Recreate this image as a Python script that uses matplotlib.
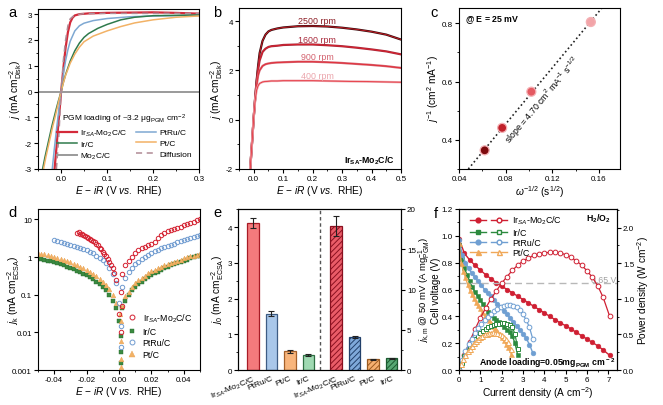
import numpy as np
import matplotlib
matplotlib.use("Agg")
import matplotlib.pyplot as plt
from matplotlib.lines import Line2D
from matplotlib.legend_handler import HandlerTuple
from matplotlib.ticker import MultipleLocator, FixedLocator, FixedFormatter, NullLocator

plt.rcParams["font.family"] = ["Liberation Sans", "DejaVu Sans"]
plt.rcParams["mathtext.fontset"] = "custom"
plt.rcParams["mathtext.rm"] = "Liberation Sans"
plt.rcParams["mathtext.it"] = "Liberation Sans:italic"
plt.rcParams["mathtext.bf"] = "Liberation Sans:bold"
plt.rcParams["axes.linewidth"] = 0.8
plt.rcParams["axes.unicode_minus"] = False
plt.rcParams["hatch.linewidth"] = 0.7

# ---------------- data ----------------
# (a) HOR polarization curves
a_irsa_x = [-0.014, -0.010, -0.006, -0.003, 0.0, 0.003, 0.006, 0.010, 0.015, 0.020, 0.025, 0.030, 0.040, 0.060, 0.10, 0.15, 0.20, 0.25, 0.30]
a_irsa_y = [-3.0, -2.2, -1.3, -0.7, -0.05, 0.5, 1.05, 1.7, 2.3, 2.68, 2.86, 2.95, 3.0, 3.03, 3.05, 3.06, 3.07, 3.05, 3.02]
a_diff_x = [-0.010, -0.005, 0.0, 0.005, 0.010, 0.015, 0.020, 0.030, 0.050, 0.10, 0.20, 0.30]
a_diff_y = [-3.0, -1.8, -0.1, 1.2, 2.0, 2.55, 2.82, 2.97, 3.02, 3.03, 3.03, 3.03]
a_ptru_x = [-0.019, -0.015, -0.010, -0.005, 0.0, 0.005, 0.010, 0.015, 0.020, 0.030, 0.040, 0.050, 0.070, 0.10, 0.15, 0.20, 0.30]
a_ptru_y = [-3.0, -2.3, -1.5, -0.75, -0.05, 0.65, 1.2, 1.62, 1.95, 2.35, 2.55, 2.65, 2.75, 2.83, 2.9, 2.93, 2.95]
a_irc_x = [-0.040, -0.035, -0.030, -0.025, -0.020, -0.015, -0.010, -0.005, 0.0, 0.005, 0.010, 0.020, 0.030, 0.040, 0.050, 0.060, 0.080, 0.10, 0.13, 0.16, 0.20, 0.30]
a_irc_y = [-3.0, -2.55, -2.15, -1.75, -1.35, -1.0, -0.65, -0.32, -0.02, 0.35, 0.66, 1.18, 1.58, 1.88, 2.1, 2.25, 2.45, 2.6, 2.78, 2.88, 2.94, 2.97]
a_ptc_x = [-0.038, -0.033, -0.028, -0.023, -0.018, -0.013, -0.008, -0.004, 0.0, 0.005, 0.010, 0.020, 0.030, 0.040, 0.050, 0.070, 0.10, 0.13, 0.16, 0.20, 0.25, 0.30]
a_ptc_y = [-3.0, -2.55, -2.15, -1.75, -1.35, -1.0, -0.62, -0.3, -0.02, 0.33, 0.63, 1.1, 1.45, 1.72, 1.93, 2.15, 2.35, 2.52, 2.66, 2.78, 2.88, 2.93]
a_mo2c_x = [-0.05, 0.30]
a_mo2c_y = [0.0, 0.0]

# (b) Ir_SA-Mo2C/C at different rotation rates
b_x = [-0.012, -0.005, 0.0, 0.005, 0.01, 0.015, 0.02, 0.03, 0.04, 0.05, 0.06, 0.08, 0.10, 0.15, 0.20, 0.25, 0.30, 0.35, 0.40, 0.45, 0.50]
b_2500 = [-2.0, -0.8, 0.1, 0.9, 1.6, 2.2, 2.7, 3.2, 3.45, 3.58, 3.64, 3.7, 3.74, 3.79, 3.8, 3.78, 3.73, 3.66, 3.57, 3.45, 3.25]
b_1600 = [-2.0, -0.8, 0.1, 0.9, 1.55, 2.05, 2.4, 2.75, 2.88, 2.95, 2.98, 3.0, 3.03, 3.05, 3.05, 3.02, 2.98, 2.92, 2.85, 2.77, 2.65]
b_900 = [-2.0, -0.8, 0.1, 0.85, 1.4, 1.8, 2.0, 2.18, 2.25, 2.28, 2.3, 2.32, 2.33, 2.35, 2.35, 2.33, 2.3, 2.26, 2.22, 2.17, 2.1]
b_400 = [-2.0, -0.8, 0.1, 0.8, 1.2, 1.38, 1.47, 1.53, 1.55, 1.56, 1.57, 1.57, 1.58, 1.58, 1.58, 1.57, 1.56, 1.55, 1.54, 1.53, 1.52]
b_labels = ["2500 rpm", "1600 rpm", "900 rpm", "400 rpm"]

# (c) Koutecky-Levich
c_x = [0.062, 0.077, 0.102, 0.153]
c_y = [0.364, 0.441, 0.565, 0.804]

# (d) kinetic current (log)
d_irsa_x = [-0.026, -0.025, -0.024, -0.023, -0.022, -0.021, -0.020, -0.019, -0.018, -0.017, -0.016, -0.015, -0.014,
            -0.013, -0.012, -0.011, -0.010, -0.009, -0.008, -0.007, -0.006, -0.005, -0.004, -0.003, -0.002,
            0.0, 0.001, 0.001, 0.002,
            0.002, 0.004, 0.006, 0.008, 0.010, 0.012, 0.014, 0.016, 0.018, 0.020, 0.022, 0.024, 0.026, 0.028,
            0.030, 0.032, 0.034, 0.036, 0.038, 0.040, 0.042, 0.044, 0.046, 0.048, 0.050]
d_irsa_y = [4.4, 4.7, 4.2, 4.0, 3.9, 3.6, 3.4, 3.3, 3.1, 2.9, 2.7, 2.5, 2.3,
            2.1, 1.8, 1.6, 1.4, 1.2, 1.05, 0.9, 0.75, 0.62, 0.5, 0.38, 0.25,
            0.03, 0.01, 0.12, 0.05,
            0.35, 0.6, 0.8, 1.0, 1.25, 1.5, 1.7, 1.9, 2.1, 2.2, 2.6, 3.2, 3.8, 4.4,
            4.9, 5.3, 5.6, 6.0, 6.5, 7.0, 7.5, 8.0, 8.8, 9.5, 10.5]
d_irc_x = [-0.050, -0.048, -0.046, -0.044, -0.042, -0.040, -0.038, -0.036, -0.034, -0.032, -0.030, -0.028, -0.026,
           -0.024, -0.022, -0.020, -0.018, -0.016, -0.014, -0.012, -0.010, -0.008, -0.006, -0.004, -0.002,
           0.0, 0.001, 0.001, 0.0015,
           0.002, 0.004, 0.006, 0.008, 0.010, 0.012, 0.014, 0.016, 0.018, 0.020, 0.022, 0.024, 0.026,
           0.028, 0.030, 0.032, 0.034, 0.036, 0.038, 0.040, 0.042, 0.044, 0.046, 0.048, 0.050]
d_irc_y = [0.95, 0.9, 0.86, 0.81, 0.77, 0.73, 0.68, 0.64, 0.6, 0.56, 0.52, 0.48, 0.44,
           0.4, 0.36, 0.33, 0.29, 0.26, 0.22, 0.19, 0.16, 0.13, 0.1, 0.07, 0.045,
           0.02, 0.008, 0.003, 0.0015,
           0.045, 0.07, 0.1, 0.13, 0.16, 0.19, 0.22, 0.26, 0.29, 0.33, 0.37, 0.41, 0.45,
           0.5, 0.55, 0.6, 0.65, 0.7, 0.75, 0.8, 0.86, 0.92, 0.98, 1.04, 1.1]
d_ptru_x = [-0.040, -0.038, -0.036, -0.034, -0.032, -0.030, -0.028, -0.026, -0.024, -0.022, -0.020, -0.018,
            -0.016, -0.014, -0.012, -0.010, -0.008, -0.006, -0.004, -0.002,
            0.0, 0.001, 0.0015,
            0.002, 0.004, 0.006, 0.008, 0.010, 0.012, 0.014, 0.016, 0.018, 0.020, 0.022, 0.024, 0.026,
            0.028, 0.030, 0.032, 0.034, 0.036, 0.038, 0.040, 0.042, 0.044, 0.046, 0.048, 0.050]
d_ptru_y = [2.8, 2.7, 2.55, 2.4, 2.3, 2.15, 2.0, 1.9, 1.78, 1.65, 1.5, 1.38,
            1.25, 1.1, 0.97, 0.82, 0.68, 0.52, 0.36, 0.2,
            0.06, 0.015, 0.004,
            0.16, 0.28, 0.4, 0.52, 0.64, 0.76, 0.88, 1.0, 1.15, 1.3, 1.42, 1.55, 1.7,
            1.85, 2.0, 2.15, 2.3, 2.48, 2.66, 2.85, 3.05, 3.25, 3.45, 3.65, 3.9]
d_ptc_x = [-0.050, -0.048, -0.046, -0.044, -0.042, -0.040, -0.038, -0.036, -0.034, -0.032, -0.030, -0.028, -0.026,
           -0.024, -0.022, -0.020, -0.018, -0.016, -0.014, -0.012, -0.010, -0.008, -0.006, -0.004, -0.002,
           0.0005, 0.001, 0.001, 0.0015, 0.001,
           0.002, 0.004, 0.006, 0.008, 0.010, 0.012, 0.014, 0.016, 0.018, 0.020, 0.022, 0.024, 0.026,
           0.028, 0.030, 0.032, 0.034, 0.036, 0.038, 0.040, 0.042, 0.044, 0.046, 0.048, 0.050]
d_ptc_y = [1.3, 1.24, 1.18, 1.12, 1.06, 1.0, 0.94, 0.88, 0.83, 0.77, 0.72, 0.66, 0.61,
           0.55, 0.5, 0.45, 0.4, 0.35, 0.31, 0.26, 0.22, 0.18, 0.14, 0.1, 0.06,
           0.03, 0.02, 0.006, 0.002, 0.0012,
           0.05, 0.09, 0.12, 0.16, 0.2, 0.24, 0.28, 0.32, 0.37, 0.42, 0.46, 0.51, 0.56,
           0.61, 0.66, 0.71, 0.76, 0.81, 0.86, 0.92, 0.98, 1.04, 1.1, 1.17, 1.25]

# (e) exchange / mass activity bars
e_names = ["Ir$_{SA}$-Mo$_2$C/C", "PtRu/C", "Pt/C", "Ir/C"]
e_j0 = [4.12, 1.57, 0.52, 0.42]
e_j0_err = [0.15, 0.07, 0.04, 0.04]
e_jkm = [17.9, 4.1, 1.35, 1.45]
e_jkm_err = [1.2, 0.15, 0.05, 0.05]

# (f) H2/O2 fuel cell
f_irsa_i = [0.0, 0.25, 0.5, 0.75, 1.0, 1.25, 1.5, 1.75, 2.0, 2.25, 2.5, 2.75, 3.0, 3.25, 3.5, 3.75, 4.0,
            4.25, 4.5, 4.75, 5.0, 5.25, 5.5, 5.75, 6.0, 6.25, 6.5, 6.75, 7.05]
f_irsa_v = [0.98, 0.87, 0.82, 0.78, 0.745, 0.71, 0.68, 0.65, 0.625, 0.6, 0.575, 0.55, 0.525, 0.5, 0.475, 0.45,
            0.425, 0.4, 0.375, 0.35, 0.33, 0.305, 0.28, 0.255, 0.23, 0.205, 0.18, 0.15, 0.11]
f_irsa_p = [0.0, 0.21, 0.4, 0.57, 0.73, 0.87, 1.0, 1.11, 1.22, 1.31, 1.4, 1.47, 1.53, 1.57, 1.61, 1.63, 1.645,
            1.65, 1.65, 1.64, 1.62, 1.58, 1.53, 1.47, 1.39, 1.3, 1.18, 1.02, 0.76]
f_irc_i = [0.0, 0.125, 0.25, 0.375, 0.5, 0.625, 0.75, 0.875, 1.0, 1.125, 1.25, 1.375, 1.5, 1.625, 1.75,
           1.875, 2.0, 2.125, 2.25, 2.375, 2.5, 2.625, 2.75]
f_irc_v = [0.93, 0.83, 0.76, 0.71, 0.66, 0.62, 0.58, 0.55, 0.52, 0.49, 0.46, 0.435, 0.41, 0.39, 0.37,
           0.355, 0.34, 0.32, 0.3, 0.28, 0.25, 0.2, 0.11]
f_irc_p = [0.0, 0.1, 0.19, 0.27, 0.33, 0.39, 0.43, 0.48, 0.52, 0.55, 0.575, 0.6, 0.615, 0.63, 0.64,
           0.65, 0.655, 0.655, 0.65, 0.635, 0.6, 0.5, 0.3]
f_ptru_i = [0.0, 0.15, 0.3, 0.45, 0.6, 0.75, 0.9, 1.05, 1.2, 1.35, 1.5, 1.65, 1.8, 1.95, 2.1, 2.25, 2.4,
            2.55, 2.7, 2.85, 3.0, 3.15, 3.3, 3.45]
f_ptru_v = [0.97, 0.86, 0.8, 0.76, 0.72, 0.69, 0.66, 0.63, 0.6, 0.575, 0.55, 0.52, 0.495, 0.47, 0.44, 0.415, 0.385,
            0.36, 0.33, 0.3, 0.27, 0.235, 0.19, 0.13]
f_ptru_p = [0.0, 0.14, 0.26, 0.36, 0.44, 0.52, 0.59, 0.65, 0.7, 0.75, 0.79, 0.83, 0.86, 0.88, 0.9, 0.91, 0.91,
            0.9, 0.88, 0.84, 0.78, 0.7, 0.6, 0.44]
f_ptc_i = [0.0, 0.1, 0.2, 0.3, 0.4, 0.5, 0.6, 0.7, 0.8, 0.9, 1.0, 1.1, 1.2, 1.3, 1.4, 1.5, 1.6, 1.7, 1.8,
           1.9, 2.0, 2.1, 2.2, 2.3, 2.45]
f_ptc_v = [0.95, 0.8, 0.74, 0.69, 0.64, 0.6, 0.57, 0.54, 0.51, 0.485, 0.46, 0.435, 0.41, 0.39, 0.37, 0.35, 0.33,
           0.31, 0.29, 0.27, 0.245, 0.22, 0.195, 0.17, 0.12]
f_ptc_p = [0.0, 0.08, 0.15, 0.21, 0.26, 0.3, 0.34, 0.38, 0.41, 0.44, 0.46, 0.48, 0.5, 0.51, 0.52, 0.525, 0.53,
           0.525, 0.52, 0.51, 0.49, 0.46, 0.43, 0.39, 0.29]

# ---------------- style ----------------
RED = "#d42a3a"
GREEN = "#2f7a4c"
BLUE = "#7ea8d2"
ORANGE = "#f2b266"
GRAY = "#9a9a9a"
TICK_FS = 5.8
LABEL_FS = 7.3

W, H = 663, 406


def px_axes(fig, left, top, right, bottom):
    return fig.add_axes([left / W, 1 - bottom / H, (right - left) / W, (bottom - top) / H])


def style(ax):
    ax.tick_params(which="both", direction="out", labelsize=TICK_FS, pad=1.5)
    ax.tick_params(which="major", length=2.8, width=0.8)
    ax.tick_params(which="minor", length=1.6, width=0.6)


xlabel_e = "$E$ − $iR$ (V $vs.$ RHE)"
ylabel_j = "$j$ (mA cm$^{-2}_{\\rm Disk}$)"

fig = plt.figure(figsize=(W / 100, H / 100), dpi=100)

# ---------------- a ----------------
ax = px_axes(fig, 38, 10, 199, 170)
h_irsa, = ax.plot(a_irsa_x, a_irsa_y, color=RED, lw=1.6, label="Ir$_{SA}$-Mo$_2$C/C")
h_ptru, = ax.plot(a_ptru_x, a_ptru_y, color=BLUE, lw=1.1, label="PtRu/C")
h_irc, = ax.plot(a_irc_x, a_irc_y, color=GREEN, lw=1.1, label="Ir/C")
h_ptc, = ax.plot(a_ptc_x, a_ptc_y, color=ORANGE, lw=1.1, label="Pt/C")
h_mo, = ax.plot(a_mo2c_x, a_mo2c_y, color=GRAY, lw=1.4, label="Mo$_2$C/C")
h_diff, = ax.plot(a_diff_x, a_diff_y, color="#b08a95", lw=1.1, ls=(0, (4, 3)), label="Diffusion")
ax.set_xlim(-0.05, 0.3)
ax.set_ylim(-3, 3.2)
ax.xaxis.set_minor_locator(MultipleLocator(0.05))
ax.yaxis.set_major_locator(MultipleLocator(1))
ax.yaxis.set_minor_locator(MultipleLocator(0.5))
style(ax)
ax.set_xticks([0.0, 0.1, 0.2, 0.3], ["0.0", "0.1", "0.2", "0.3"])
ax.set_xlabel(xlabel_e, fontsize=LABEL_FS, labelpad=1)
ax.set_ylabel(ylabel_j, fontsize=LABEL_FS, labelpad=1)
ax.legend(handles=[h_irsa, h_irc, h_mo, h_ptru, h_ptc, h_diff], ncol=2, frameon=False,
          fontsize=6.0, title="PGM loading of ~3.2 μg$_{\\rm PGM}$ cm$^{-2}$", title_fontsize=6.0,
          loc="lower right", bbox_to_anchor=(1.0, 0.0), handlelength=2.4, columnspacing=1.0,
          labelspacing=0.35, handletextpad=0.4)

# ---------------- b ----------------
ax = px_axes(fig, 239, 9, 401, 170)
b_colors = ["#3b0c0e", "#a8283a", "#d4626f", "#eba4ab"]
b_text_colors = ["#8a1a22", "#a8283a", "#d4626f", "#eba4ab"]
b_series = [b_2500, b_1600, b_900, b_400]
b_label_y = [4.02, 3.25, 2.57, 1.78]
for ys, col, tcol, lab, ly in zip(b_series, b_colors, b_text_colors, b_labels, b_label_y):
    ax.plot(b_x, ys, color=col, lw=1.6)
    ax.plot(b_x, ys, color="#e8202a", lw=0.5)
    ax.text(0.215, ly, lab, color=tcol, fontsize=6.4, ha="center", va="center")
ax.text(0.48, -1.62, "Ir$_{\\bf SA}$-Mo$_{\\bf 2}$C/C", fontsize=6.3, fontweight="bold", ha="right", va="center")
ax.set_xlim(-0.05, 0.5)
ax.set_ylim(-2, 4.53)
ax.xaxis.set_minor_locator(MultipleLocator(0.05))
ax.yaxis.set_major_locator(MultipleLocator(2))
ax.yaxis.set_minor_locator(MultipleLocator(1))
style(ax)
ax.set_xticks([0.0, 0.1, 0.2, 0.3, 0.4, 0.5], ["0.0", "0.1", "0.2", "0.3", "0.4", "0.5"])
ax.set_xlabel(xlabel_e, fontsize=LABEL_FS, labelpad=1)
ax.set_ylabel(ylabel_j, fontsize=LABEL_FS, labelpad=1)

# ---------------- c ----------------
ax = px_axes(fig, 459, 9, 620, 170)
k, b0 = np.polyfit(c_x, c_y, 1)
fit_x = np.array([(0.3 - b0) / k, (0.852 - b0) / k])
ax.plot(fit_x, k * fit_x + b0, color="#222222", lw=1.2, ls=(0, (1, 1.6)))
c_colors = ["#7e0a0e", "#c0202a", "#e45a62", "#f2a4a8"]
ax.scatter(c_x, c_y, s=42, c=c_colors, edgecolors="#f4b0b4", linewidths=0.9, zorder=3)
ax.text(0.04, 0.93, "@ $\\bf{E}$ = 25 mV", transform=ax.transAxes, fontsize=6.3, fontweight="bold",
        ha="left", va="center")
ax.text(0.112, 0.537, "slope = 4.70 cm$^2$ mA$^{-1}$ s$^{-1/2}$", fontsize=6.3, rotation=50,
        ha="center", va="center")
ax.set_xlim(0.04, 0.178)
ax.set_ylim(0.3, 0.852)
ax.xaxis.set_minor_locator(MultipleLocator(0.02))
ax.yaxis.set_minor_locator(MultipleLocator(0.1))
style(ax)
ax.set_xticks([0.04, 0.08, 0.12, 0.16], ["0.04", "0.08", "0.12", "0.16"])
ax.set_yticks([0.4, 0.6, 0.8], ["0.4", "0.6", "0.8"])
ax.set_xlabel("$\\omega^{-1/2}$ (s$^{1/2}$)", fontsize=LABEL_FS, labelpad=1)
ax.set_ylabel("$j^{-1}$ (cm$^2$ mA$^{-1}$)", fontsize=LABEL_FS, labelpad=1)

# ---------------- d ----------------
ax = px_axes(fig, 38, 210, 200, 371)
ax.set_yscale("log")
ax.plot(d_irc_x, d_irc_y, ls="none", marker="s", ms=2.6, mfc="#3a8a40", mec="#2a6a30", mew=0.3, label="Ir/C")
ax.plot(d_ptc_x, d_ptc_y, ls="none", marker="^", ms=3.4, mfc=ORANGE, mec="#e8a050", mew=0.3, label="Pt/C")
ax.plot(d_ptru_x, d_ptru_y, ls="none", marker="o", ms=3.2, mfc="none", mec="#6f9bd0", mew=0.7, label="PtRu/C")
ax.plot(d_irsa_x, d_irsa_y, ls="none", marker="o", ms=3.2, mfc="none", mec="#d42030", mew=0.7,
        label="Ir$_{SA}$-Mo$_2$C/C")
hs, ls_ = ax.get_legend_handles_labels()
ax.legend([hs[3], hs[0], hs[2], hs[1]], [ls_[3], ls_[0], ls_[2], ls_[1]], loc="lower right", frameon=False,
          fontsize=6.3, handletextpad=0.2, labelspacing=0.3, markerscale=1.1, bbox_to_anchor=(1.0, 0.02))
ax.set_xlim(-0.05, 0.05)
ax.set_ylim(0.001, 19)
ax.yaxis.set_major_locator(FixedLocator([0.001, 0.01, 0.1, 1, 10]))
ax.yaxis.set_major_formatter(FixedFormatter(["0.001", "0.01", "0.1", "1", "10"]))
ax.yaxis.set_minor_locator(NullLocator())
ax.xaxis.set_minor_locator(MultipleLocator(0.01))
style(ax)
ax.set_xticks([-0.04, -0.02, 0.0, 0.02, 0.04], ["-0.04", "-0.02", "0.00", "0.02", "0.04"])
ax.set_xlabel(xlabel_e, fontsize=LABEL_FS, labelpad=1)
ax.set_ylabel("$j_{\\rm k}$ (mA cm$^{-2}_{\\rm ECSA}$)", fontsize=LABEL_FS)
ax.yaxis.set_label_coords(-0.1, 0.5)

# ---------------- e ----------------
ax = px_axes(fig, 238, 210, 401, 371)
ax2 = ax.twinx()
pos_l = np.array([0, 1, 2, 3])
pos_r = pos_l + 4.5
fill_l = ["#f47a7c", "#a9c7ea", "#f8b57c", "#9fd9b2"]
edge_l = ["#a81c26", "#3e5c84", "#a4602a", "#2e6e42"]
fill_r = ["#ea5c68", "#7fa9da", "#f6b070", "#58a874"]
edge_r = ["#8a1020", "#22406a", "#9a5a20", "#1c5a30"]
ax.bar(pos_l, e_j0, width=0.62, color=fill_l, edgecolor=edge_l, linewidth=0.9, zorder=2)
ax.errorbar(pos_l, e_j0, yerr=e_j0_err, fmt="none", ecolor="#222222", elinewidth=0.8, capsize=2.2,
            capthick=0.8, zorder=3)
ax2.bar(pos_r, e_jkm, width=0.62, color=fill_r, edgecolor=edge_r, linewidth=0.9, hatch="//////", zorder=2)
ax2.errorbar(pos_r, e_jkm, yerr=e_jkm_err, fmt="none", ecolor="#222222", elinewidth=0.8, capsize=2.2,
             capthick=0.8, zorder=3)
ax.axvline(3.65, color="#555555", lw=1.0, ls=(0, (2.5, 2)))
ax.set_xlim(-0.8, 8.0)
ax.set_ylim(0, 4.51)
ax2.set_ylim(0, 20)
ax.yaxis.set_major_locator(MultipleLocator(1))
ax.yaxis.set_minor_locator(MultipleLocator(0.5))
ax2.yaxis.set_major_locator(MultipleLocator(5))
ax2.yaxis.set_minor_locator(MultipleLocator(2.5))
style(ax)
style(ax2)
ax.set_xticks(list(pos_l) + list(pos_r))
ax.set_xticklabels(e_names + e_names, rotation=22, ha="right", rotation_mode="anchor", fontsize=6.0)
ax.tick_params(axis="x", length=0, pad=3)
ax.set_ylabel("$j_0$ (mA cm$^{-2}_{\\rm ECSA}$)", fontsize=LABEL_FS, labelpad=1)
ax2.set_ylabel("$j_{\\rm k,m}$ @ 50 mV (A mg$^{-1}_{\\rm PGM}$)", fontsize=6.8)
ax2.yaxis.set_label_coords(1.097, 0.5)

# ---------------- f ----------------
ax = px_axes(fig, 459, 210, 617, 371)
ax2 = ax.twinx()
f_sets = [
    ("Ir$_{SA}$-Mo$_2$C/C", f_irsa_i, f_irsa_v, f_irsa_p, "#cf1f32", "o", 3.4),
    ("Ir/C", f_irc_i, f_irc_v, f_irc_p, "#2c8a3e", "s", 3.0),
    ("PtRu/C", f_ptru_i, f_ptru_v, f_ptru_p, "#6f9fd2", "o", 3.4),
    ("Pt/C", f_ptc_i, f_ptc_v, f_ptc_p, "#f0a858", "^", 3.6),
]
handles = []
for name, ii, vv, pp, col, mk, ms in f_sets:
    ax.plot(ii, vv, color=col, lw=1.0, marker=mk, ms=ms, mfc=col, mec=col, mew=0.4)
    ax2.plot(ii, pp, color=col, lw=0.9, marker=mk, ms=ms, mfc="white", mec=col, mew=0.7)
    hf = Line2D([], [], color=col, lw=1.0, marker=mk, ms=ms, mfc=col, mec=col)
    ho = Line2D([], [], color=col, lw=1.0, marker=mk, ms=ms, mfc="white", mec=col)
    handles.append((hf, ho))
ax.plot([0, 7.45], [0.65, 0.65], color="#b8b8b8", lw=1.0, ls=(0, (5, 3)))
ax.text(6.2, 0.675, "0.65 V", color="#a0a0a0", fontsize=6.3, ha="left", va="center")
ax2.legend(handles, [s[0] for s in f_sets], handler_map={tuple: HandlerTuple(ndivide=None, pad=0.6)},
           loc="upper left", frameon=False, fontsize=6.4, handlelength=4.2, labelspacing=0.15,
           handletextpad=0.5, bbox_to_anchor=(0.02, 1.02))
ax.text(0.96, 0.945, "H$_{\\bf 2}$/O$_{\\bf 2}$", transform=ax.transAxes, fontsize=6.3, fontweight="bold",
        ha="right", va="center")
ax.text(0.56, 0.05, "Anode loading=0.05mg$_{\\bf PGM}$ cm$^{\\bf -2}$", transform=ax.transAxes, fontsize=6.3,
        fontweight="bold", ha="center", va="center")
ax.set_xlim(0, 7.4)
ax.set_ylim(0, 1.2)
ax2.set_ylim(0, 2.26)
ax.xaxis.set_major_locator(MultipleLocator(1))
ax.xaxis.set_minor_locator(MultipleLocator(0.5))
ax.yaxis.set_minor_locator(MultipleLocator(0.1))
ax2.yaxis.set_minor_locator(MultipleLocator(0.25))
style(ax)
style(ax2)
ax.set_yticks([0, 0.2, 0.4, 0.6, 0.8, 1.0, 1.2], ["0.0", "0.2", "0.4", "0.6", "0.8", "1.0", "1.2"])
ax2.set_yticks([0, 0.5, 1.0, 1.5, 2.0], ["0.0", "0.5", "1.0", "1.5", "2.0"])
ax.set_xlabel("Current density (A cm$^{-2}$)", fontsize=LABEL_FS, labelpad=1)
ax.set_ylabel("Cell voltage (V)", fontsize=7.0)
ax.yaxis.set_label_coords(-0.112, 0.5)
ax2.set_ylabel("Power density (W cm$^{-2}$)", fontsize=LABEL_FS, labelpad=1)

# panel letters
for letter, x, y in [("a", 12, 13), ("b", 217, 13), ("c", 434, 13), ("d", 12, 213), ("e", 217, 213), ("f", 436, 214)]:
    fig.text(x / W, 1 - y / H, letter, fontsize=10.5, ha="center", va="center")

fig.savefig("out.png", dpi=100)
